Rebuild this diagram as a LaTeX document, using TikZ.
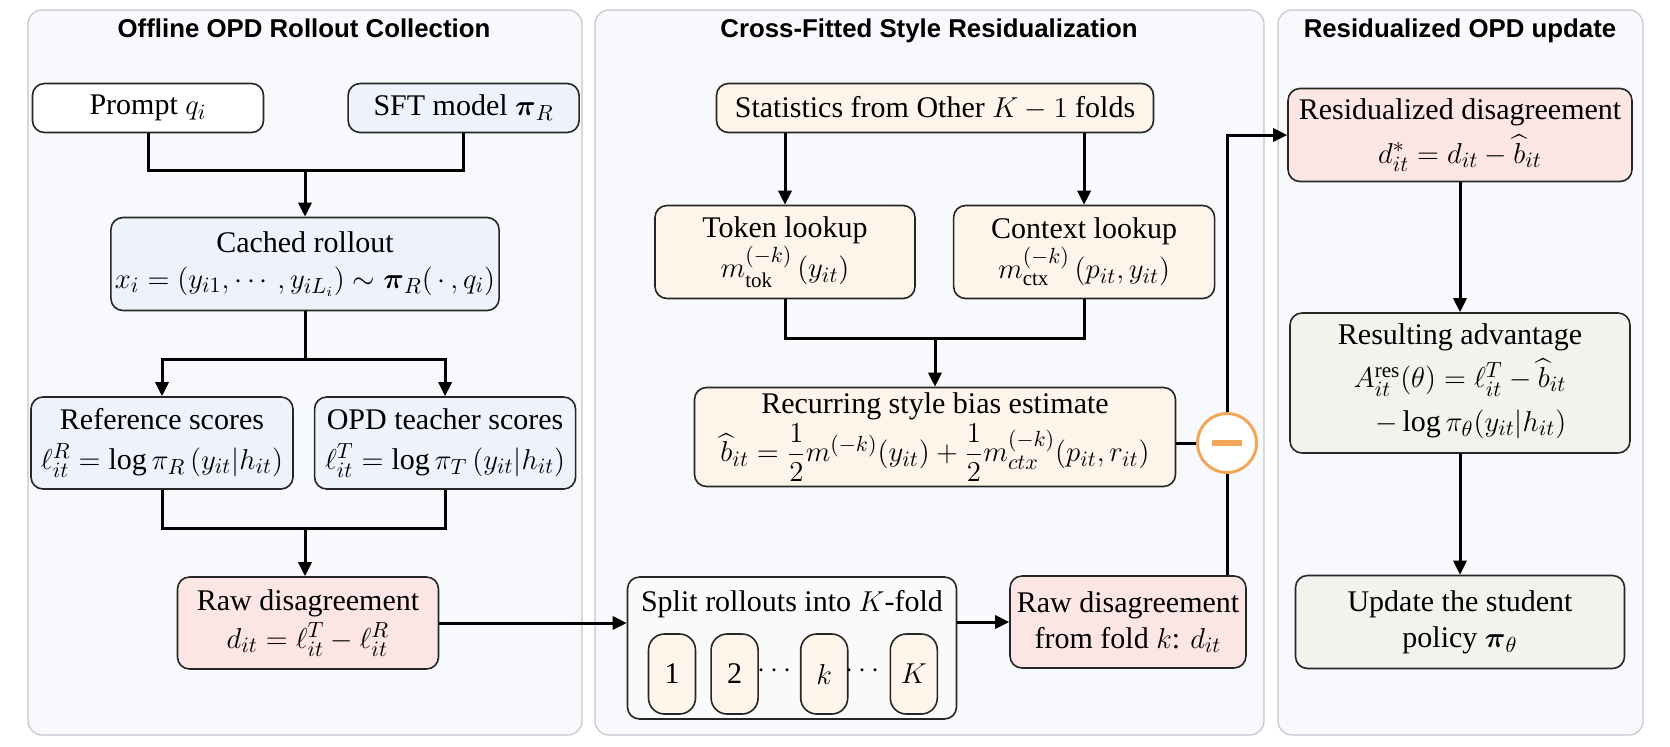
\documentclass[tikz,border=0pt]{standalone}
\usepackage{amsmath}
\usepackage{fontspec}
\setmainfont{Liberation Serif}
\newfontfamily\titlefont{Liberation Sans}
\usepackage{xcolor}
\usetikzlibrary{arrows.meta, positioning, backgrounds}

\definecolor{panelfill}{HTML}{F8F9FC}
\definecolor{panelline}{HTML}{C3C6CC}
\definecolor{boxblue}{HTML}{EDF2FB}
\definecolor{boxpink}{HTML}{FBE6E3}
\definecolor{boxcream}{HTML}{FDF4EA}
\definecolor{boxgreen}{HTML}{F1F3EE}
\definecolor{boxgray}{HTML}{FAFAFA}
\definecolor{minusorange}{HTML}{F2A65A}

\begin{document}
\begin{tikzpicture}[x=0.5pt, y=-0.5pt,
    box/.style={draw=black!85, line width=0.8pt, rounded corners=6pt, align=center,
        inner sep=2pt, font=\fontsize{15}{18}\selectfont},
    foldbox/.style={box, fill=boxcream, rounded corners=8pt, minimum width=23.5pt, minimum height=40pt},
    panel/.style={draw=panelline, fill=panelfill, rounded corners=7pt, line width=0.6pt},
    paneltitle/.style={anchor=base, font=\titlefont\bfseries\fontsize{12.9}{15}\selectfont},
    link/.style={line width=1.5pt},
    arrow/.style={link, -{Triangle[length=7pt, width=6.5pt]}}]
    \useasboundingbox (0,0) rectangle (1670,746);

    % Panels
    \draw[panel] (28,10) rectangle (582,735);
    \draw[panel] (595,10) rectangle (1264,735);
    \draw[panel] (1278,10) rectangle (1643,735);
    \node[paneltitle] (title1) at (304,37) {Offline OPD Rollout Collection};
    \node[paneltitle] (title2) at (929,37) {Cross-Fitted Style Residualization};
    \node[paneltitle] (title3) at (1460,37) {Residualized OPD update};

    % Rollout collection
    \node[box, fill=white, minimum width=115.5pt, minimum height=24.5pt] (prompt) at (148,108) {Prompt $q_i$};
    \node[box, fill=boxblue, minimum width=115.5pt, minimum height=24.5pt, right=41.5pt of prompt] (sft) {SFT model $\boldsymbol{\pi}_R$};
    \node[box, fill=boxblue, minimum width=179.5pt, minimum height=46.5pt] (cached) at (305,264) {
        Cached rollout\\
        $x_i = (y_{i1}, \cdots, y_{iL_i}) \sim \boldsymbol{\pi}_R(\,\cdot\,, q_i)$
    };
    \node[box, fill=boxblue, minimum width=131pt, minimum height=46pt] (ref) at (162,443) {
        Reference scores\\[2pt]
        $\ell^R_{it} = \log\pi_R\,(y_{it}|h_{it})$
    };
    \node[box, fill=boxblue, minimum width=130.5pt, minimum height=46pt, right=10pt of ref] (teacher) {
        OPD teacher scores\\[2pt]
        $\ell^T_{it} = \log\pi_T\,(y_{it}|h_{it})$
    };
    \node[box, fill=boxpink, minimum width=130.5pt, minimum height=46pt] (raw) at (308,623) {
        Raw disagreement\\[1pt]
        $d_{it} = \ell^T_{it} - \ell^R_{it}$
    };

    % Cross-fitting
    \node[box, fill=boxcream, minimum width=218.5pt, minimum height=24.5pt] (stats) at (935,108) {Statistics from Other $K-1$ folds};
    \node[box, fill=boxcream, minimum width=130pt, minimum height=46.5pt] (token) at (785,252) {
        Token lookup\\
        $m^{(-k)}_{\mathrm{tok}}\,(y_{it})$
    };
    \node[box, fill=boxcream, minimum width=130.5pt, minimum height=46.5pt, right=18.5pt of token] (context) {
        Context lookup\\
        $m^{(-k)}_{\mathrm{ctx}}\,(p_{it}, y_{it})$
    };
    \node[box, fill=boxcream, minimum width=240.5pt, minimum height=49.5pt, inner sep=1pt] (bias) at (935,437) {
        Recurring style bias estimate\\[1pt]
        $\widehat{b}_{it} = \dfrac{1}{2} m^{(-k)}(y_{it}) + \dfrac{1}{2} m^{(-k)}_{ctx}(p_{it}, r_{it})$
    };
    \node[box, fill=boxgray, minimum width=164.5pt, minimum height=71pt,
        label={[anchor=center, yshift=-14pt, font=\fontsize{15}{18}\selectfont]north:Split rollouts into $K$-fold}] (split) at (792,648) {};
    \node[foldbox] (fold1) at (672,674) {1};
    \node[foldbox, right=7pt of fold1] (fold2) {2};
    \node[foldbox, right=20.5pt of fold2] (foldk) {$k$};
    \node[foldbox, right=20.5pt of foldk] (foldK) {$K$};
    \node[font=\fontsize{15}{18}\selectfont] (dots1) at (777,671) {$\cdots$};
    \node[font=\fontsize{15}{18}\selectfont] (dots2) at (865,671) {$\cdots$};
    \node[box, fill=boxpink, minimum width=118pt, minimum height=46pt] (rawfold) at (1128,622) {
        Raw disagreement\\
        from fold $k$: $d_{it}$
    };
    \node[circle, draw=minusorange, fill=white, line width=1.5pt, minimum size=29.5pt, inner sep=0pt] (minus) at (1227,443)
        {\textcolor{minusorange}{\rule{15pt}{3pt}}};

    % Update
    \node[box, fill=boxpink, minimum width=172pt, minimum height=46.5pt] (resid) at (1460,135) {
        Residualized disagreement\\[4pt]
        $d^*_{it} = d_{it} - \widehat{b}_{it}$
    };
    \node[box, fill=boxgreen, minimum width=170pt, minimum height=70pt] (adv) at (1460,383) {
        Resulting advantage\\[3pt]
        \begin{tabular}{@{}r@{}}
            $A^{\mathrm{res}}_{it}(\theta) = \ell^T_{it} - \widehat{b}_{it}$\\[4pt]
            $-\log\pi_\theta(y_{it}|h_{it})$
        \end{tabular}
    };
    \node[box, fill=boxgreen, minimum width=164.5pt, minimum height=46.5pt] (update) at (1460,622) {
        Update the student\\
        policy $\boldsymbol{\pi}_\theta$
    };

    % Junctions
    \coordinate (jin) at (305,170);
    \coordinate (jscore) at (305,359);
    \coordinate (jraw) at (305,528);
    \coordinate (jlook) at (935,338);

    % Connections
    \draw[link] (prompt.south) |- (jin) -| (sft.south);
    \draw[arrow] (jin) -- (cached.north);
    \draw[link] (cached.south) -- (jscore);
    \draw[arrow] (jscore) -| (ref.north);
    \draw[arrow] (jscore) -| (teacher.north);
    \draw[link] (ref.south) |- (jraw) -| (teacher.south);
    \draw[arrow] (jraw) -- (raw.north -| jraw);
    \draw[arrow] (raw.east) -- (raw.east -| split.west);
    \draw[arrow] (stats.south -| token.north) -- (token.north);
    \draw[arrow] (stats.south -| context.north) -- (context.north);
    \draw[link] (token.south) |- (jlook) -| (context.south);
    \draw[arrow] (jlook) -- (bias.north);
    \draw[arrow] (rawfold.west -| split.east) -- (rawfold.west);
    \draw[link] (minus.west -| bias.east) -- (minus.west);
    \draw[link] (rawfold.north -| minus.south) -- (minus.south);
    \draw[arrow] (minus.north) |- (resid.west);
    \draw[arrow] (resid.south) -- (adv.north);
    \draw[arrow] (adv.south) -- (update.north);
\end{tikzpicture}
\end{document}
